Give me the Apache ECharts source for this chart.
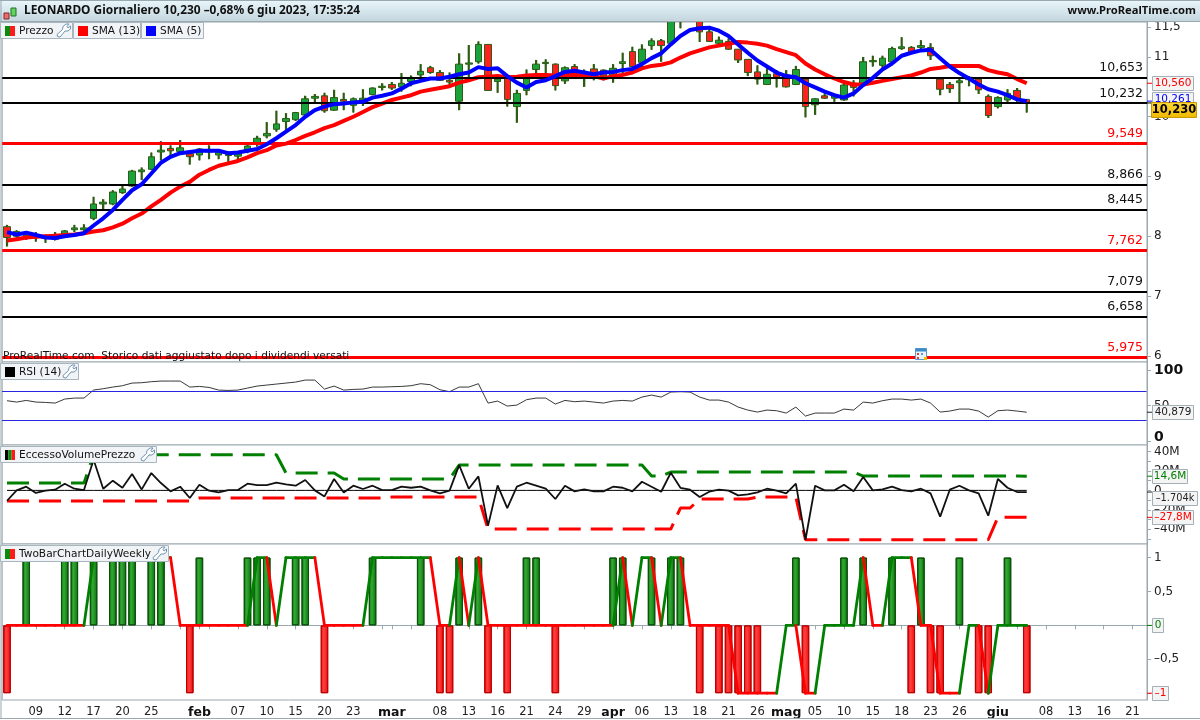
<!DOCTYPE html>
<html><head><meta charset="utf-8">
<style>html,body{margin:0;padding:0;background:#fff}#c{width:1200px;height:720px}</style>
<script src="https://cdn.jsdelivr.net/npm/echarts@6/dist/echarts.min.js"></script>
</head><body><div id="c"></div>
<script>
const ohlc = [
[8.16,7.98,7.83,8.19],[8.00,8.08,7.97,8.10],[7.97,8.02,7.94,8.08],[7.98,8.02,7.91,8.07],[7.97,8.00,7.89,8.03],[7.95,8.02,7.93,8.07],[8.02,8.09,7.99,8.10],[8.11,8.14,8.07,8.19],[8.11,8.14,8.07,8.20],[8.30,8.54,8.27,8.66],
[8.54,8.57,8.44,8.62],[8.54,8.74,8.52,8.77],[8.73,8.79,8.71,8.86],[8.84,9.09,8.83,9.11],[9.08,9.11,8.94,9.15],[9.12,9.33,9.11,9.40],[9.41,9.44,9.27,9.59],[9.47,9.43,9.33,9.52],[9.42,9.48,9.39,9.61],[9.38,9.33,9.20,9.42],
[9.36,9.46,9.27,9.47],[9.41,9.43,9.29,9.52],[9.36,9.40,9.29,9.45],[9.35,9.38,9.20,9.42],[9.34,9.38,9.27,9.42],[9.43,9.51,9.39,9.53],[9.55,9.64,9.50,9.68],[9.68,9.72,9.64,9.91],[9.79,9.88,9.75,10.10],[9.92,9.97,9.78,10.06],
[9.95,10.07,9.93,10.08],[10.03,10.30,10.01,10.35],[10.31,10.34,10.24,10.38],[10.35,10.10,10.07,10.40],[10.11,10.32,10.10,10.45],[10.29,10.26,10.11,10.40],[10.19,10.30,10.07,10.32],[10.28,10.31,10.18,10.46],[10.37,10.48,10.36,10.49],[10.49,10.51,10.44,10.56],
[10.54,10.48,10.45,10.58],[10.50,10.56,10.42,10.73],[10.59,10.64,10.51,10.69],[10.70,10.76,10.61,10.88],[10.82,10.74,10.72,10.85],[10.74,10.61,10.60,10.78],[10.61,10.58,10.51,10.74],[10.26,10.88,10.11,11.06],[10.88,10.90,10.59,11.20],[10.92,11.21,10.89,11.26],
[11.21,10.44,10.44,11.21],[10.59,10.63,10.40,10.70],[10.67,10.29,10.17,10.70],[10.17,10.39,9.90,10.45],[10.44,10.64,10.36,10.79],[10.79,10.88,10.72,10.95],[10.89,10.91,10.63,10.96],[10.88,10.52,10.44,10.89],[10.60,10.82,10.55,10.84],[10.84,10.67,10.64,10.88],
[10.68,10.70,10.50,10.79],[10.80,10.70,10.61,10.88],[10.78,10.68,10.61,10.79],[10.68,10.81,10.57,10.88],[10.89,10.92,10.70,11.07],[11.09,10.84,10.84,11.17],[10.91,11.13,10.81,11.21],[11.19,11.27,11.12,11.31],[11.27,11.19,10.92,11.30],[11.23,11.62,11.22,11.65],
[11.60,11.70,11.48,11.75],[11.66,11.72,11.62,11.76],[11.62,11.42,11.25,11.70],[11.42,11.26,11.25,11.47],[11.23,11.28,11.20,11.34],[11.26,11.13,11.12,11.31],[11.13,10.95,10.90,11.13],[10.96,10.74,10.68,10.96],[10.75,10.63,10.54,10.86],[10.54,10.71,10.53,10.81],
[10.72,10.66,10.49,10.78],[10.70,10.50,10.49,10.78],[10.54,10.79,10.53,10.85],[10.63,10.17,9.99,10.63],[10.20,10.30,10.03,10.31],[10.35,10.31,10.30,10.39],[10.31,10.35,10.25,10.36],[10.28,10.53,10.27,10.56],[10.56,10.49,10.34,10.61],[10.56,10.92,10.56,11.00],
[10.92,10.94,10.84,11.02],[10.86,10.98,10.81,11.02],[10.92,11.14,10.90,11.17],[11.14,11.17,11.12,11.33],[11.16,11.07,11.06,11.18],[11.16,11.19,11.12,11.28],[11.16,11.02,10.95,11.23],[10.63,10.46,10.36,10.66],[10.54,10.47,10.40,10.58],[10.57,10.60,10.24,10.66],
[10.62,10.66,10.51,10.68],[10.63,10.45,10.38,10.64],[10.34,10.02,9.98,10.37],[10.17,10.32,10.14,10.34],[10.28,10.39,10.24,10.46],[10.44,10.29,10.25,10.48],[10.29,10.23,10.07,10.29]
];
const sma5 = [
8.07,8.03,8.06,8.02,7.98,7.97,8.00,8.02,8.05,8.18,
8.30,8.44,8.61,8.77,8.87,9.05,9.23,9.33,9.39,9.41,
9.43,9.43,9.43,9.39,9.40,9.43,9.46,9.54,9.64,9.75,
9.86,10.00,10.11,10.17,10.21,10.22,10.24,10.25,10.32,10.35,
10.39,10.47,10.56,10.60,10.64,10.64,10.67,10.71,10.74,10.83,
10.80,10.81,10.68,10.57,10.49,10.58,10.61,10.68,10.75,10.77,
10.74,10.71,10.74,10.75,10.78,10.80,10.88,10.98,11.06,11.21,
11.35,11.45,11.48,11.49,11.44,11.35,11.21,11.07,10.94,10.84,
10.74,10.68,10.66,10.56,10.49,10.42,10.36,10.32,10.39,10.53,
10.65,10.79,10.89,11.02,11.07,11.11,11.12,10.98,10.84,10.73,
10.64,10.54,10.46,10.42,10.36,10.29,10.26];
const sma13 = [
7.93,7.95,7.98,7.99,8.00,8.01,8.02,8.03,8.05,8.08,
8.10,8.15,8.21,8.30,8.38,8.50,8.61,8.73,8.83,8.91,
9.03,9.11,9.18,9.22,9.26,9.32,9.39,9.44,9.52,9.55,
9.61,9.68,9.74,9.81,9.86,9.93,10.00,10.08,10.16,10.22,
10.28,10.32,10.36,10.42,10.45,10.48,10.51,10.57,10.61,10.66,
10.67,10.68,10.66,10.67,10.69,10.70,10.70,10.69,10.70,10.70,
10.69,10.68,10.64,10.68,10.70,10.74,10.81,10.85,10.87,10.91,
10.99,11.06,11.11,11.16,11.19,11.22,11.25,11.24,11.22,11.19,
11.13,11.08,11.03,10.89,10.79,10.71,10.64,10.58,10.54,10.54,
10.57,10.60,10.63,10.66,10.69,10.74,10.80,10.82,10.85,10.85,
10.85,10.85,10.78,10.74,10.71,10.63,10.56];
const blackLevels = [10.653,10.232,8.866,8.445,7.079,6.658];
const redLevels = [9.549,7.762,5.975];
const rsi = [
57,55.1,57.4,55.1,54.6,53.7,59.3,60.7,60.7,71.9,
73.8,76.1,78,81.7,82.2,83.6,84.5,84.5,84.5,76.1,
77,75.6,71.9,71.4,71.9,74.7,77.5,78.9,80.3,81.7,
83.1,85.9,85.9,73.3,77.5,71.9,72.8,73.3,76.1,76.1,
76.6,77,78,80.8,79.4,72.4,69.6,76.1,76.1,80.8,
53.7,56.5,49.5,50.9,58.4,60.7,60.7,52.3,57.4,55.6,
56.5,55.1,53.7,56.5,57.4,56.5,62.1,64.9,62.1,69.1,
69.6,69.1,62.1,57.9,57.9,55.1,48.1,43.9,41.1,43.9,
43,39.7,48.1,35.5,39.7,39.7,39.7,45.3,43.9,55.1,
53.7,57,59.3,59.3,57.9,59.3,53.7,41.1,42.5,45.3,
45.3,42.5,34.1,43,43.9,42.5,40.879];
const rsiBands = [70,30];
const volExcess = [
-10.7,0,3.8,-2.7,-0.3,0.7,6.9,1.7,0.3,31.6,
1.7,10,2.7,16.8,1,17.9,7.6,-1,3.8,-7.9,
5.8,-0.3,-2.1,0.3,0.3,6.9,5.5,5.5,7.9,6.2,
4.8,10.7,0,-6.2,11.7,-2.1,4.8,1.4,4.8,0.3,
0.3,3.8,2.7,3.8,0,-3.1,-0.3,26.1,1.7,14.4,
-36.4,5.2,-18.2,3.8,7.9,4.8,1.7,-8.9,4.8,-1,
1,-1,-1,3.8,2.7,-1,8.9,3.8,-1.4,18.2,
2.7,0.7,-6.9,-1.4,0.7,-0.3,-5.2,-4.1,-2.1,1.7,
-0.3,-3.1,6.9,-50.9,4.8,0,0,5.8,-1,13.7,
0,1,3.8,0.3,-1,1.7,-3.1,-27.1,0.7,4.8,
0,-3.1,-26.1,11.7,2.7,-1.7,-1.704];
const volZero = [
0,0,0,0,0,0,0,0,0,0,0,0,0,0,0,0,0,0,0,0,0,0,0,0,0,0,0,0,0,0,0,0,0,0,0,0,
0,0,0,0,0,0,0,0,0,0,0,0,0,0,0,0,0,0,0,0,0,0,0,0,0,0,0,0,0,0,0,0,0,0,0,0,
0,0,0,0,0,0,0,0,0,0,0,0,0,0,0,0,0,0,0,0,0,0,0,0,0,0,0,0,0,0,0,0,0,0,0];
const volUpper = [
7.6,7.6,7.6,7.6,7.6,7.6,7.6,7.6,7.6,36.8,
36.8,36.8,36.8,36.8,36.8,36.8,36.8,36.8,36.8,36.8,
36.8,36.8,36.8,36.8,36.8,36.8,36.8,36.8,36.8,17.9,
17.9,17.9,17.9,17.9,17.9,11.7,11.7,11.7,11.7,11.7,
11.7,11.7,11.7,11.7,11.7,11.7,11.7,26.1,26.1,26.1,
26.1,26.1,26.1,26.1,26.1,26.1,26.1,26.1,26.1,26.1,
26.1,26.1,26.1,26.1,26.1,26.1,26.1,14.8,14.8,18.9,
18.9,18.9,18.9,18.9,18.9,18.9,18.9,18.9,18.9,18.9,
18.9,18.9,18.9,18.9,18.9,18.9,18.9,18.9,18.9,14.8,
14.8,14.8,14.8,14.8,14.8,14.8,14.8,14.8,14.8,14.8,
14.8,14.8,14.8,14.8,14.8,14.8,14.6];
const volLower = [
-11,-11,-11,-11,-11,-11,-11,-11,-11,-11,
-11,-11,-11,-11,-11,-11,-11,-11,-11,-11,
-7.9,-7.9,-7.9,-7.9,-7.9,-7.9,-7.9,-7.9,-7.9,-7.9,
-7.9,-7.9,-7.9,-7.9,-7.9,-7.9,-7.9,-7.9,-7.9,-7.9,
-6.9,-6.9,-6.9,-6.9,-6.9,-6.9,-6.9,-6.9,-6.9,-6.9,
-39.9,-39.9,-39.9,-39.9,-39.9,-39.9,-39.9,-39.9,-39.9,-39.9,
-39.9,-39.9,-39.9,-39.9,-39.9,-39.9,-39.9,-39.9,-39.9,-39.9,
-18.2,-18.2,-8.9,-8.9,-8.9,-8.9,-8.9,-8.9,-6.9,-6.9,
-6.9,-6.9,-6.9,-50.9,-50.9,-50.9,-50.9,-50.9,-50.9,-50.9,
-50.9,-50.9,-50.9,-50.9,-50.9,-50.9,-50.9,-50.9,-50.9,-50.9,
-50.9,-50.9,-50.9,-27.8,-27.8,-27.8,-27.8];
const trend = [
0,0,0,0,0,0,0,0,0,1,
1,1,1,1,1,1,1,1,0,0,
0,0,0,0,0,0,1,1,0,1,
1,1,1,0,0,0,0,0,1,1,
1,1,1,1,1,0,0,1,0,1,
0,0,0,0,0,0,0,0,0,0,
0,0,0,0,1,0,1,1,0,1,
1,0,0,0,0,0,-1,-1,-1,-1,
-1,0,0,-1,-1,0,0,0,0,1,
0,0,1,1,1,0,0,-1,-1,-1,
0,0,-1,0,0,0,0];
const greenBarDays = [2,6,7,9,11,12,13,15,16,20,25,26,27,30,31,38,43,47,49,54,55,63,64,67,69,70,82,87,89,92,95,99,104];
const redBarDays = [0,19,33,45,46,50,52,57,72,74,75,76,77,78,83,94,96,97,101,102,106];
const tickDays = [3,6,9,12,15,20,24,27,30,33,36,40,45,48,51,54,57,60,63,66,69,72,75,78,81,84,87,90,93,96,99,103,108,111,114,117];
const tickLabels = ['09','12','17','20','25','feb','07','10','15','20','23','mar','08','13','16','21','24','29','apr','06','13','18','21','26','mag','05','10','15','18','23','26','giu','08','13','16','21'];
const monthNames = ['feb','mar','apr','mag','giu'];
const slotCount = 119;

const FONT = '"DejaVu Sans"';
const GREY = '#9aa8b0';
const RED = '#ff0000', GREEN = '#008000', BLUE = '#0000ff';
const slots = Array.from({length: slotCount}, (_, i) => String(i));
const labelAt = {}; tickDays.forEach((d, i) => labelAt[d] = tickLabels[i]);
const monthDays = tickDays.filter((d, i) => monthNames.includes(tickLabels[i]));
const comma = v => String(v).replace('.', ',').replace('-', '\u2013');

const gridBase = {left: 2.2, width: 1144.8, show: true, borderColor: GREY, borderWidth: 1, backgroundColor: '#fff'};
const grids = [
  {...gridBase, top: 22, height: 340},
  {...gridBase, top: 362, height: 83},
  {...gridBase, top: 445, height: 99},
  {...gridBase, top: 544, height: 156}
];
const hiddenX = g => ({type: 'category', gridIndex: g, data: slots, boundaryGap: true, axisLine: {show: false}, axisTick: {show: false}, axisLabel: {show: false}, splitLine: {show: false}});
const yBase = (g, min, max, vals, ticks, fmt, extra) => ({
  type: 'value', gridIndex: g, position: 'right', min, max, scale: false,
  axisLine: {show: true, lineStyle: {color: GREY}},
  axisTick: {show: true, length: 4, lineStyle: {color: GREY}, customValues: ticks},
  splitLine: {show: false},
  axisLabel: Object.assign({show: true, margin: 7, color: '#222', fontFamily: FONT, fontSize: 12, customValues: vals, formatter: fmt, showMinLabel: true, showMaxLabel: true}, extra || {})
});
const levelLine = (vals, color, width) => ({
  type: 'line', xAxisIndex: 0, yAxisIndex: 0, data: [], z: 4, silent: true,
  markLine: {
    silent: true, symbol: 'none', animation: false, precision: 3,
    lineStyle: {color, width, type: 'solid'},
    label: {show: true, position: 'insideEndTop', distance: [4, 3], color: color === RED ? RED : '#111', fontFamily: FONT, fontSize: 12.5,
      formatter: p => p.value.toFixed(3).replace('.', ',')},
    emphasis: {disabled: true},
    data: vals.map(v => ({yAxis: v}))
  }
});
const barGrad = (a, b, c) => ({type: 'linear', x: 0, y: 0, x2: 1, y2: 0, colorStops: [{offset: 0, color: a}, {offset: .4, color: b}, {offset: 1, color: c}]});
const barData = (days, v) => slots.map((_, i) => days.includes(i) ? v : null);
const segments = [];
{ let col = RED;
  for (let i = 0; i < trend.length - 1; i++) {
    if (trend[i + 1] > trend[i]) col = GREEN; else if (trend[i + 1] < trend[i]) col = RED;
    segments.push([i, trend[i], trend[i + 1], col]);
  } }
const wickData = ohlc.map((c, i) => [i, c[2], c[3]]);

const option = {
  animation: false, backgroundColor: '#fff', textStyle: {fontFamily: FONT},
  grid: grids,
  xAxis: [hiddenX(0), hiddenX(1), hiddenX(2), {
    type: 'category', gridIndex: 3, data: slots, boundaryGap: true,
    axisLine: {show: true, lineStyle: {color: GREY}},
    axisTick: {show: true, alignWithLabel: true, length: 4, lineStyle: {color: GREY}, interval: i => i % 3 === 0 || monthDays.includes(i)},
    axisLabel: {show: true, margin: 6, interval: i => tickDays.includes(Number(i)), color: '#222', fontFamily: FONT, fontSize: 11.5,
      formatter: (v) => { const t = labelAt[v] || ''; return monthNames.includes(t) ? '{m|' + t + '}' : t; },
      rich: {m: {fontWeight: 'bold', fontSize: 12.5, fontFamily: FONT, color: '#111'}}}
  }],
  yAxis: [
    yBase(0, 5.896, 11.585, [6,7,8,9,10,11,11.5], [6,7,8,9,10,11,11.5], v => comma(v)),
    yBase(1, -5, 111.2, [0,50,100], [0,50,100], v => v === 50 ? '50' : v === 0 ? '{z|0}' : '{b|' + v + '}',
      {rich: {b: {fontWeight: 'bold', fontSize: 14, fontFamily: FONT, color: '#111'}, z: {fontWeight: 'bold', fontSize: 14, fontFamily: FONT, color: '#111', padding: [0, 0, 8, 0]}}}),
    yBase(2, -55.3, 46.8, [-40,-20,0,20,40], [-50,-40,-30,-20,-10,0,10,20,30,40], v => v === 0 ? '0' : comma(v) + 'M'),
    yBase(3, -1.1, 1.2, [-1,-0.5,0,0.5,1], [-1,-0.5,0,0.5,1], v => comma(v))
  ],
  series: [
    {type: 'custom', name: 'wicks', xAxisIndex: 0, yAxisIndex: 0, data: wickData, z: 1, silent: true, clip: true, encode: {x: 0, y: [1, 2]},
      renderItem: (params, api) => {
        const a = api.coord([api.value(0), api.value(1)]);
        const b = api.coord([api.value(0), api.value(2)]);
        return {type: 'line', shape: {x1: a[0], y1: a[1], x2: b[0], y2: b[1]}, style: {stroke: '#2d5c12', lineWidth: 2.2, fill: null}};
      }},
    {type: 'candlestick', xAxisIndex: 0, yAxisIndex: 0, data: ohlc, barWidth: 7, z: 2, clip: true, silent: true,
      itemStyle: {color: '#1aa23c', color0: '#ff2020', borderColor: '#2d5c12', borderColor0: '#2d5c12', borderWidth: 1}},
    {type: 'line', name: 'SMA (13)', xAxisIndex: 0, yAxisIndex: 0, data: sma13, showSymbol: false, z: 3, silent: true, lineStyle: {color: RED, width: 4}},
    levelLine(blackLevels, '#000', 2),
    levelLine(redLevels, RED, 3),
    {type: 'line', name: 'SMA (5)', xAxisIndex: 0, yAxisIndex: 0, data: sma5, showSymbol: false, z: 5, silent: true, lineStyle: {color: BLUE, width: 4}},

    {type: 'line', name: 'RSI (14)', xAxisIndex: 1, yAxisIndex: 1, data: rsi, showSymbol: false, z: 3, silent: true, lineStyle: {color: '#222', width: 0.9}},

    {type: 'line', xAxisIndex: 2, yAxisIndex: 2, data: volZero, showSymbol: false, z: 2, silent: true, lineStyle: {color: '#000', width: 1}},
    {type: 'line', name: 'upper', xAxisIndex: 2, yAxisIndex: 2, data: volUpper, showSymbol: false, z: 3, silent: true, lineStyle: {color: GREEN, width: 3, type: [22, 10]}},
    {type: 'line', name: 'lower', xAxisIndex: 2, yAxisIndex: 2, data: volLower, showSymbol: false, z: 3, silent: true, lineStyle: {color: RED, width: 3, type: [22, 10]}},
    {type: 'line', name: 'EccessoVolumePrezzo', xAxisIndex: 2, yAxisIndex: 2, data: volExcess, showSymbol: false, z: 4, silent: true, lineStyle: {color: '#111', width: 1.8}},

    {type: 'bar', xAxisIndex: 3, yAxisIndex: 3, data: barData(greenBarDays, 1), barWidth: 7.5, barGap: '-100%', z: 2, silent: true,
      itemStyle: {color: barGrad('#0b7d0b', '#35a835', '#087008'), borderColor: '#0a4f0a', borderWidth: 1}},
    {type: 'bar', xAxisIndex: 3, yAxisIndex: 3, data: barData(redBarDays, -1), barWidth: 7.5, barGap: '-100%', z: 2, silent: true,
      itemStyle: {color: barGrad('#f01010', '#ff4040', '#ee0a0a'), borderColor: '#b80000', borderWidth: 1}},
    {type: 'custom', xAxisIndex: 3, yAxisIndex: 3, data: segments, z: 4, silent: true, encode: {x: 0, y: [1, 2]},
      renderItem: (params, api) => {
        const a = api.coord([api.value(0), api.value(1)]);
        const b = api.coord([api.value(0) + 1, api.value(2)]);
        return {type: 'line', shape: {x1: a[0], y1: a[1], x2: b[0], y2: b[1]},
          style: {stroke: segments[params.dataIndex][3], lineWidth: 2.8, lineCap: 'round', fill: null}};
      }}
  ]
};

const chart = echarts.init(document.getElementById('c'), null, {renderer: 'canvas', width: 1200, height: 720});
chart.setOption(option);

const tagSpecs = [
  {axis: 0, val: 10.560, text: '10,560', col: RED, w: 41, dy: 0},
  {axis: 0, val: 10.261, text: '10,261', col: BLUE, w: 41, dy: -2},
  {axis: 0, val: 10.230, text: '10,230', col: '#000', w: 45, dy: 7, gold: true},
  {axis: 1, val: 40.879, text: '40,879', col: '#222', w: 41, dy: 0},
  {axis: 2, val: 14.6, text: '14,6M', col: GREEN, w: 35, dy: 0},
  {axis: 2, val: -1.704, text: '\u20131.704k', col: '#222', w: 45, dy: 6},
  {axis: 2, val: -27.8, text: '\u201327,8M', col: RED, w: 41, dy: 0},
  {axis: 3, val: 0, text: '0', col: GREEN, w: 11, dy: 0},
  {axis: 3, val: -1, text: '\u20131', col: RED, w: 16, dy: 0}
];
const Z = 50;
const rect = (x, y, w, h, fill, stroke, extra) => Object.assign({type: 'rect', z: Z, silent: true, shape: {x, y, width: w, height: h}, style: {fill, stroke: stroke || null, lineWidth: 1}}, extra || {});
const txt = (x, y, text, o) => ({type: 'text', z: Z + 1, silent: true, x, y, style: Object.assign({text, fontFamily: FONT, fontSize: 11.5, fill: '#111', verticalAlign: 'middle', align: 'left'}, o || {})});
const wrench = (x, y) => ({type: 'polygon', z: Z + 1, silent: true, x, y,
  shape: {points: [[9,0],[12,0],[10,2.5],[11,4],[13.5,2],[13.5,5],[11,7],[8,7],[3,13],[0.5,12.5],[0,10.5],[5.5,5.5],[6,2.5]]},
  style: {fill: '#fff', stroke: '#6f93b0', lineWidth: 1}});
function tab(x, y, w, h, swatches, label, hasWrench) {
  const out = [rect(x + .5, y + .5, w, h, '#f1f4f6', '#a9b6bf')];
  const sw = 10 / swatches.length;
  swatches.forEach((c, i) => out.push(rect(x + 5 + i * sw, y + 4, sw, 10, c)));
  out.push(txt(x + 19, y + 9, label, {fontSize: 10.6, fill: '#111'}));
  if (hasWrench) out.push(wrench(x + w - 15, y + 2));
  return out;
}
const g = [];
/* RSI band lines, placed through the RSI axis scale */
rsiBands.forEach(v => {
  const y = Math.round(chart.convertToPixel({yAxisIndex: 1}, v));
  g.push(rect(2, y, 1144.5, 1, '#2626e0', null, {z: 20}));
});
g.push(rect(0, 0, 1200, 21.5, {type: 'linear', x: 0, y: 0, x2: 0, y2: 1, colorStops: [{offset: 0, color: '#e9f7fc'}, {offset: 1, color: '#c4d5de'}]}));
g.push({type: 'line', z: Z, silent: true, shape: {x1: 0, y1: .5, x2: 1200, y2: .5}, style: {stroke: GREY, lineWidth: 1}});
g.push({type: 'line', z: Z, silent: true, shape: {x1: 0, y1: 21.5, x2: 1200, y2: 21.5}, style: {stroke: GREY, lineWidth: 1}});
g.push({type: 'line', z: Z, silent: true, shape: {x1: 0, y1: 718.5, x2: 1200, y2: 718.5}, style: {stroke: GREY, lineWidth: 1}});
g.push({type: 'line', z: Z, silent: true, shape: {x1: 1, y1: 0, x2: 1, y2: 718}, style: {stroke: GREY, lineWidth: 1}});
/* header icon */
g.push(rect(4, 13, 5, 6, '#f06a6a', '#7a2a2a'));
g.push(rect(11, 8, 5, 8, '#5fd45f', '#2a6a2a'));
g.push(txt(24, 11, 'LEONARDO Giornaliero 10,230 \u20130,68% 6 giu 2023, 17:35:24', {fontFamily: '"Noto Sans"', fontWeight: 'bold', fontSize: 11.9, fill: '#111'}));
g.push(txt(1196, 11, 'www.ProRealTime.com', {fontFamily: '"Noto Sans"', fontWeight: 'bold', fontSize: 11.2, fill: '#111', align: 'right'}));
g.push(...tab(0, 22, 72, 16, ['#0d8a0d', '#ff1a1a'], 'Prezzo', true));
g.push(...tab(73, 22, 67, 16, ['#ff0000'], 'SMA (13)', false));
g.push(...tab(141, 22, 62, 16, ['#0000ff'], 'SMA (5)', false));
g.push(...tab(0, 363, 78, 16, ['#000000'], 'RSI (14)', true));
g.push(...tab(0, 446, 156, 16, ['#000000', '#0d8a0d', '#ff1a1a'], 'EccessoVolumePrezzo', true));
g.push(...tab(0, 545, 168, 16, ['#0d8a0d', '#ff1a1a'], 'TwoBarChartDailyWeekly', true));
g.push(txt(3, 356, 'ProRealTime.com  Storico dati aggiustato dopo i dividendi versati', {fontSize: 10.6, fill: '#111'}));
/* calendar marker */
g.push(rect(915.5, 348.5, 11, 11, '#eaf3fa', '#5c9bd0'));
g.push(rect(915.5, 348.5, 11, 3, '#3a8bc8'));
g.push(rect(917, 353, 2, 2, '#e04040'));
g.push(rect(921, 353, 2, 2, '#5c9bd0'));
g.push(rect(917, 357, 2, 2, '#e04040'));
g.push(rect(924, 357, 3, 3, '#f0c000'));
/* value tags */
tagSpecs.forEach(t => {
  const y0 = chart.convertToPixel({yAxisIndex: t.axis}, t.val);
  const y = Math.round(y0 + t.dy);
  g.push({type: 'line', z: Z, silent: true, shape: {x1: 1147, y1: y0, x2: 1152, y2: y0}, style: {stroke: t.col, lineWidth: 1}});
  if (t.gold) {
    g.push(rect(1151.5, y - 7.5, t.w, 15, {type: 'linear', x: 0, y: 0, x2: 0, y2: 1, colorStops: [{offset: 0, color: '#ffd83a'}, {offset: 1, color: '#eeb800'}]}, '#c79a00'));
    g.push(txt(1151.5 + t.w / 2, y + .5, t.text, {fontSize: 11.5, fontWeight: 'bold', fill: '#000', align: 'center'}));
  } else {
    g.push(rect(1152.5, y - 6.5, t.w, 14, '#f4f4f4', '#a3b0b8'));
    g.push(txt(1152.5 + t.w / 2, y + .5, t.text, {fontSize: t.text.length > 6 ? 9.8 : 10.5, fill: t.col, align: 'center'}));
  }
});
chart.setOption({graphic: {elements: g}});
</script></body></html>
